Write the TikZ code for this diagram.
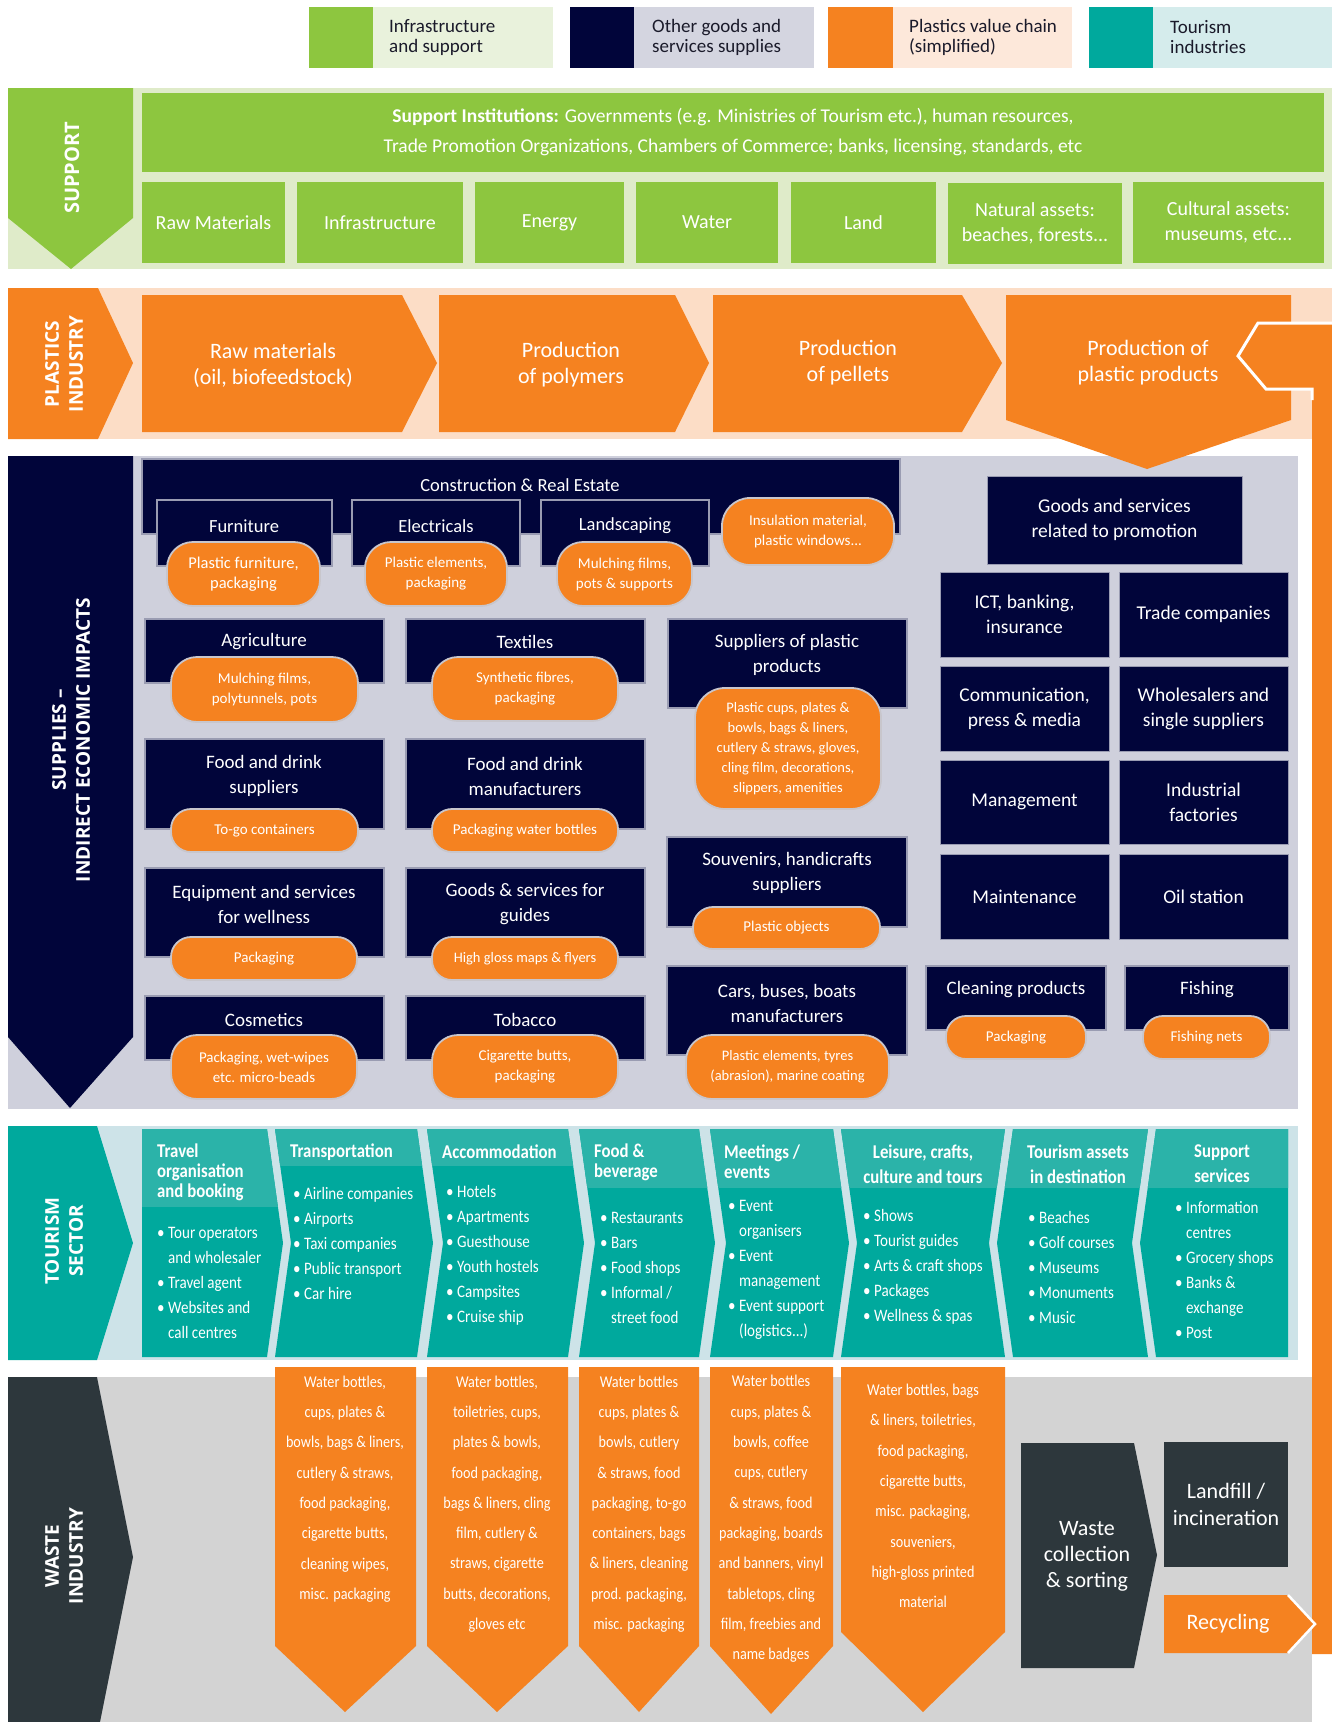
\documentclass[tikz,border=0pt]{standalone}
\usepackage{fontspec}
\setmainfont{Carlito}
\newfontfamily\hd{Open Sans}
\newfontfamily\cond{Carlito}[FakeStretch=0.86]
\newcommand\fs[2]{\fontsize{#1}{#2}\selectfont}
\newcommand\bul{\makebox[11pt][l]{\textbullet}}
\newcommand\ind{\hspace*{11pt}}
\newcommand\bx[7]{\node[#1, minimum width={(#5-#3)*1pt}, minimum height={(#6-#4)*1pt}, inner sep=0pt, outer sep=0pt] (#2) at ({(#3+#5)/2},{(#4+#6)/2}) {#7};}
\newcommand\tcol[2]{\begin{scope}\clip #1; \fill[tealc] (130,1120) rectangle (1300,1365); \fill[tealh] (130,1120) rectangle (1300,#2);\end{scope}}
\definecolor{grn}{HTML}{8DC63F}
\definecolor{grnbg}{HTML}{DFEBC9}
\definecolor{grnlt}{HTML}{E9F2DC}
\definecolor{navy}{HTML}{01053A}
\definecolor{lav}{HTML}{CFD0DC}
\definecolor{navylt}{HTML}{D4D5E0}
\definecolor{org}{HTML}{F58220}
\definecolor{peach}{HTML}{FCDDC6}
\definecolor{peachlt}{HTML}{FDE8DA}
\definecolor{tealc}{HTML}{00A99D}
\definecolor{tealh}{HTML}{2BB3A9}
\definecolor{tealbg}{HTML}{CDE3E8}
\definecolor{teallt}{HTML}{D5ECEC}
\definecolor{dkw}{HTML}{2D373C}
\definecolor{grybg}{HTML}{D3D3D3}
\definecolor{boxln}{HTML}{9A9CB2}
\definecolor{pilln}{HTML}{C8C6CC}
\definecolor{legtxt}{HTML}{1A1A2A}
\begin{document}
\begin{tikzpicture}[x=1pt,y=-1pt,
 txt/.style={text=white, align=center, inner sep=0pt},
 navyb/.style={fill=navy, draw=boxln, line width=1.2pt},
 pillst/.style={fill=org, draw=pilln, line width=1.8pt, text=white, align=center},
 grnb/.style={fill=grn, text=white, align=center, font=\fs{20}{25}},
 gridb/.style={fill=navy, draw=boxln, line width=1pt, text=white, align=center, font=\fs{19.5}{25}},
 legt/.style={anchor=west, align=left, inner sep=0pt, text=legtxt, font=\fs{19}{20}},
 vlab/.style={txt, rotate=90, font=\hd\bfseries\fs{19}{24}},
 lst/.style={anchor=west, align=left, inner sep=0pt, text=white, font=\cond\fs{17.5}{25}},
 hdr/.style={inner sep=0pt, text=white, font=\cond\bfseries\fs{19.5}{20}},
 wtxt/.style={txt, font=\cond\fs{16.5}{30.3}},
 ptxt/.style={txt, font=\fs{22}{26}},
 ]
\useasboundingbox (0,0) rectangle (1332,1722);
\fill[white] (0,0) rectangle (1332,1722);

% ---------------- legend
\fill[grnlt] (309,7) rectangle (553,68); \fill[grn] (309,7) rectangle (373,68);
\node[legt] (leg1) at (389,37.5) {Infrastructure\\and support};
\fill[navylt] (570,7) rectangle (814,68); \fill[navy] (570,7) rectangle (634,68);
\node[legt] (leg2) at (652,37.5) {Other goods and\\services supplies};
\fill[peachlt] (828,7) rectangle (1072,68); \fill[org] (828,7) rectangle (893,68);
\node[legt] (leg3) at (909,37.5) {Plastics value chain\\(simplified)};
\fill[teallt] (1089,7) rectangle (1332,68); \fill[tealc] (1089,7) rectangle (1153,68);
\node[legt] (leg4) at (1170,37.5) {Tourism\\industries};

% ---------------- support
\fill[grnbg] (8,88) rectangle (1332,269);
\fill[grn] (8,88) -- (133,88) -- (133,218) -- (71,269) -- (8,218) -- cycle;
\node[vlab, font=\hd\bfseries\fs{20}{24}] (lab-sup) at (72,168) {SUPPORT};
\bx{grnb, font=\fs{19.5}{30}}{inst}{142}{93}{1324}{172}{\textbf{Support Institutions:} Governments (e.g. Ministries of Tourism etc.), human resources,\\Trade Promotion Organizations, Chambers of Commerce; banks, licensing, standards, etc}
\bx{grnb}{s-raw}{142}{182}{285}{263}{Raw Materials}
\bx{grnb}{s-inf}{297}{182}{463}{263}{Infrastructure}
\bx{grnb}{s-ene}{475}{182}{624}{263}{Energy}
\bx{grnb}{s-wat}{636}{182}{778}{263}{Water}
\bx{grnb}{s-lan}{791}{182}{936}{263}{Land}
\bx{grnb}{s-nat}{948}{183}{1122}{264}{Natural assets:\\beaches, forests...}
\bx{grnb}{s-cul}{1133}{182}{1324}{263}{Cultural assets:\\museums, etc...}

% ---------------- plastics industry
\fill[peach] (8,288) rectangle (1332,439);
\fill[org] (8,288) -- (98,288) -- (133,363) -- (98,439) -- (8,439) -- cycle;
\node[vlab] (lab-pla) at (64,364) {PLASTICS\\INDUSTRY};
\fill[org] (142,295) -- (402,295) -- (437,363) -- (402,432) -- (142,432) -- cycle;
\node[ptxt] (p1) at (273,365) {Raw materials\\(oil, biofeedstock)};
\fill[org] (439,295) -- (675,295) -- (709,363) -- (675,432) -- (439,432) -- cycle;
\node[ptxt] (p2) at (571,365) {Production\\of polymers};
\fill[org] (713,295) -- (962,295) -- (1002,363) -- (962,432) -- (713,432) -- cycle;
\node[ptxt] (p3) at (848,363) {Production\\of pellets};

% ---------------- supplies
\fill[lav] (8,456) rectangle (1298,1109);
\fill[org] (1006,295) -- (1291,295) -- (1291,420) -- (1147,469) -- (1006,420) -- cycle;
\node[ptxt] (p4) at (1148,363) {Production of\\plastic products};
\fill[org] (1332,323) -- (1258,323) -- (1238,356) -- (1266,389) -- (1312,389) -- (1312,1654) -- (1332,1654) -- cycle;
\draw[white, line width=3pt, line join=miter] (1312,400) -- (1312,389) -- (1266,389) -- (1238,356) -- (1258,323) -- (1335,323);

\fill[navy] (8,456) -- (133,456) -- (133,1037) -- (70,1108) -- (8,1037) -- cycle;
\node[vlab] (lab-supl) at (71,740) {SUPPLIES –\\INDIRECT ECONOMIC IMPACTS};

\bx{navyb}{constr}{142}{459}{900}{534}{}
\node[txt, font=\fs{18.5}{24}] (constr-t) at (520,485) {Construction \& Real Estate};
\bx{navyb}{furn}{157}{500}{332}{566}{}
\node[txt, font=\fs{18.5}{24}] (furn-t) at (244,526) {Furniture};
\bx{navyb}{elec}{352}{500}{520}{566}{}
\node[txt, font=\fs{18.5}{24}] (elec-t) at (436,526) {Electricals};
\bx{navyb}{land}{541}{500}{709}{566}{}
\node[txt, font=\fs{18.5}{24}] (land-t) at (625,526) {Landscaping};
\bx{pillst, rounded corners=26pt, font=\fs{16.5}{20}}{furn-p}{167}{542}{320}{606}{Plastic furniture,\\packaging}
\bx{pillst, rounded corners=26pt, font=\fs{15}{20}}{elec-p}{365}{542}{507}{606}{Plastic elements,\\packaging}
\bx{pillst, rounded corners=26pt, font=\fs{15}{20}}{land-p}{557}{542}{692}{606}{Mulching films,\\pots \& supports}
\bx{pillst, rounded corners=28pt, font=\fs{15}{20}}{ins-p}{722}{498}{894}{565}{Insulation material,\\plastic windows...}

\bx{navyb}{agri}{145}{619}{384}{683}{}
\node[txt, font=\fs{19}{25}] (agri-t) at (264,642) {Agriculture};
\bx{pillst, rounded corners=26pt, font=\fs{15}{20}}{agri-p}{171}{657}{358}{722}{Mulching films,\\polytunnels, pots}
\bx{navyb}{text}{406}{619}{645}{683}{}
\node[txt, font=\fs{19}{25}] (text-t) at (525,642) {Textiles};
\bx{pillst, rounded corners=26pt, font=\fs{15}{20}}{text-p}{432}{657}{618}{721}{Synthetic fibres,\\packaging}
\bx{navyb}{supp}{668}{619}{907}{708}{}
\node[txt, font=\fs{19}{25}] (supp-t) at (787,655) {Suppliers of plastic\\products};
\bx{pillst, rounded corners=30pt, font=\fs{14.5}{20}}{supp-p}{695}{688}{881}{809}{Plastic cups, plates \&\\bowls, bags \& liners,\\cutlery \& straws, gloves,\\cling film, decorations,\\slippers, amenities}

\bx{navyb}{fds}{145}{739}{384}{829}{}
\node[txt, font=\fs{19}{25}] (fds-t) at (264,776) {Food and drink\\suppliers};
\bx{pillst, rounded corners=20pt, font=\fs{15}{20}}{fds-p}{171}{809}{358}{852}{To-go containers}
\bx{navyb}{fdm}{406}{739}{645}{829}{}
\node[txt, font=\fs{19}{25}] (fdm-t) at (525,776) {Food and drink\\manufacturers};
\bx{pillst, rounded corners=20pt, font=\fs{15}{20}}{fdm-p}{432}{809}{618}{852}{Packaging water bottles}

\bx{navyb}{well}{145}{868}{384}{957}{}
\node[txt, font=\fs{19}{25}] (well-t) at (264,904) {Equipment and services\\for wellness};
\bx{pillst, rounded corners=20pt, font=\fs{15}{20}}{well-p}{171}{937}{357}{980}{Packaging}
\bx{navyb}{guid}{406}{868}{645}{957}{}
\node[txt, font=\fs{19}{25}] (guid-t) at (525,904) {Goods \& services for\\guides};
\bx{pillst, rounded corners=20pt, font=\fs{14.5}{20}}{guid-p}{432}{937}{618}{980}{High gloss maps \& flyers}

\bx{navyb}{cosm}{145}{996}{384}{1060}{}
\node[txt, font=\fs{19}{25}] (cosm-t) at (264,1020) {Cosmetics};
\bx{pillst, rounded corners=26pt, font=\fs{15}{20}}{cosm-p}{171}{1035}{357}{1099}{Packaging, wet-wipes\\etc. micro-beads}
\bx{navyb}{toba}{406}{996}{645}{1060}{}
\node[txt, font=\fs{19}{25}] (toba-t) at (525,1020) {Tobacco};
\bx{pillst, rounded corners=26pt, font=\fs{15}{20}}{toba-p}{432}{1035}{618}{1099}{Cigarette butts,\\packaging}

\bx{navyb}{souv}{667}{837}{907}{927}{}
\node[txt, font=\fs{19}{25}] (souv-t) at (787,873) {Souvenirs, handicrafts\\suppliers};
\bx{pillst, rounded corners=20pt, font=\fs{15}{20}}{souv-p}{693}{907}{880}{949}{Plastic objects}
\bx{navyb}{cars}{667}{966}{907}{1055}{}
\node[txt, font=\fs{19}{25}] (cars-t) at (787,1003) {Cars, buses, boats\\manufacturers};
\bx{pillst, rounded corners=26pt, font=\fs{14.5}{20}}{cars-p}{686}{1035}{889}{1099}{Plastic elements, tyres\\(abrasion), marine coating}
\bx{navyb}{clea}{926}{966}{1106}{1030}{}
\node[txt, font=\fs{19}{25}] (clea-t) at (1016,990) {Cleaning products};
\bx{pillst, rounded corners=20pt, font=\fs{15}{20}}{clea-p}{946}{1016}{1086}{1059}{Packaging}
\bx{navyb}{fish}{1125}{966}{1289}{1030}{}
\node[txt, font=\fs{19}{25}] (fish-t) at (1207,990) {Fishing};
\bx{pillst, rounded corners=20pt, font=\fs{15}{20}}{fish-p}{1143}{1016}{1270}{1059}{Fishing nets}

\bx{gridb}{g-prom}{987}{476}{1242}{564}{Goods and services\\related to promotion}
\bx{gridb}{g-ict}{940}{572}{1109}{657}{ICT, banking,\\insurance}
\bx{gridb}{g-trade}{1119}{572}{1288}{657}{Trade companies}
\bx{gridb}{g-comm}{940}{666}{1109}{751}{Communication,\\press \& media}
\bx{gridb}{g-whol}{1119}{666}{1288}{751}{Wholesalers and\\single suppliers}
\bx{gridb}{g-mgmt}{940}{760}{1109}{844}{Management}
\bx{gridb}{g-ind}{1119}{760}{1288}{844}{Industrial\\factories}
\bx{gridb}{g-main}{940}{854}{1109}{939}{Maintenance}
\bx{gridb}{g-oil}{1119}{854}{1288}{939}{Oil station}

% ---------------- tourism
\fill[tealbg] (8,1126) rectangle (1298,1360);
\fill[tealc] (8,1126) -- (97,1126) -- (133,1243) -- (97,1360) -- (8,1360) -- cycle;
\node[vlab] (lab-tour) at (64,1241) {TOURISM\\SECTOR};
\tcol{(142,1129) -- (267,1129) -- (283,1243) -- (267,1357) -- (142,1357) -- cycle}{1207}
\tcol{(275,1129) -- (417,1129) -- (433,1243) -- (417,1357) -- (275,1357) -- (291,1243) -- cycle}{1166}
\tcol{(427,1129) -- (568,1129) -- (584,1243) -- (568,1357) -- (427,1357) -- (443,1243) -- cycle}{1166}
\tcol{(579,1129) -- (699,1129) -- (715,1243) -- (699,1357) -- (579,1357) -- (595,1243) -- cycle}{1188}
\tcol{(710,1129) -- (833,1129) -- (849,1243) -- (833,1357) -- (710,1357) -- (726,1243) -- cycle}{1188}
\tcol{(841,1129) -- (1005,1129) -- (989,1243) -- (1005,1357) -- (841,1357) -- (857,1243) -- cycle}{1188}
\tcol{(1013,1129) -- (1148,1129) -- (1132,1243) -- (1148,1357) -- (1013,1357) -- (997,1243) -- cycle}{1188}
\tcol{(1156,1129) -- (1288,1129) -- (1288,1357) -- (1156,1357) -- (1140,1243) -- cycle}{1188}

\node[hdr, anchor=west, align=left] (h1) at (157,1172) {Travel\\organisation\\and booking};
\node[hdr, anchor=west, align=left] (h2) at (290,1152) {Transportation};
\node[hdr, anchor=west, align=left] (h3) at (442,1152) {Accommodation};
\node[hdr, anchor=west, align=left] (h4) at (594,1162) {Food \&\\beverage};
\node[hdr, anchor=west, align=left] (h5) at (724,1162) {Meetings /\\events};
\node[hdr, align=center, font=\cond\bfseries\fs{19.5}{25}] (h6) at (923,1164) {Leisure, crafts,\\culture and tours};
\node[hdr, align=center, font=\cond\bfseries\fs{19.5}{25}] (h7) at (1078,1164) {Tourism assets\\in destination};
\node[hdr, align=center, font=\cond\bfseries\fs{19.5}{25}] (h8) at (1222,1164) {Support\\services};

\node[lst] (l1) at (157,1283) {\bul Tour operators\\\ind and wholesaler\\\bul Travel agent\\\bul Websites and\\\ind call centres};
\node[lst] (l2) at (293,1243) {\bul Airline companies\\\bul Airports\\\bul Taxi companies\\\bul Public transport\\\bul Car hire};
\node[lst] (l3) at (446,1255.5) {\bul Hotels\\\bul Apartments\\\bul Guesthouse\\\bul Youth hostels\\\bul Campsites\\\bul Cruise ship};
\node[lst] (l4) at (600,1268) {\bul Restaurants\\\bul Bars\\\bul Food shops\\\bul Informal /\\\ind street food};
\node[lst] (l5) at (728,1269.5) {\bul Event\\\ind organisers\\\bul Event\\\ind management\\\bul Event support\\\ind (logistics...)};
\node[lst] (l6) at (863,1267) {\bul Shows\\\bul Tourist guides\\\bul Arts \& craft shops\\\bul Packages\\\bul Wellness \& spas};
\node[lst] (l7) at (1028,1267) {\bul Beaches\\\bul Golf courses\\\bul Museums\\\bul Monuments\\\bul Music};
\node[lst] (l8) at (1175,1269.5) {\bul Information\\\ind centres\\\bul Grocery shops\\\bul Banks \&\\\ind exchange\\\bul Post};

% ---------------- waste
\fill[grybg] (8,1377) rectangle (1312,1722);
\fill[dkw] (8,1377) -- (97,1377) -- (133,1557) -- (100,1722) -- (8,1722) -- cycle;
\node[vlab] (lab-waste) at (64,1556) {WASTE\\INDUSTRY};

\fill[org] (275,1367) -- (416,1367) -- (416,1646) -- (345,1712) -- (275,1646) -- cycle;
\node[wtxt] (a1) at (345,1489) {Water bottles,\\cups, plates \&\\bowls, bags \& liners,\\cutlery \& straws,\\food packaging,\\cigarette butts,\\cleaning wipes,\\misc. packaging};
\fill[org] (427,1367) -- (568,1367) -- (568,1646) -- (497,1712) -- (427,1646) -- cycle;
\node[wtxt] (a2) at (497,1504) {Water bottles,\\toiletries, cups,\\plates \& bowls,\\food packaging,\\bags \& liners, cling\\film, cutlery \&\\straws, cigarette\\butts, decorations,\\gloves etc};
\fill[org] (579,1367) -- (699,1367) -- (699,1646) -- (639,1712) -- (579,1646) -- cycle;
\node[wtxt] (a3) at (639,1504) {Water bottles\\cups, plates \&\\bowls, cutlery\\\& straws, food\\packaging, to-go\\containers, bags\\\& liners, cleaning\\prod. packaging,\\misc. packaging};
\fill[org] (710,1367) -- (833,1367) -- (833,1646) -- (771,1714) -- (710,1646) -- cycle;
\node[wtxt] (a4) at (771,1519) {Water bottles\\cups, plates \&\\bowls, coffee\\cups, cutlery\\\& straws, food\\packaging, boards\\and banners, vinyl\\tabletops, cling\\film, freebies and\\name badges};
\fill[org] (841,1367) -- (1005,1367) -- (1005,1632) -- (923,1712) -- (841,1632) -- cycle;
\node[wtxt] (a5) at (923,1496) {Water bottles, bags\\\& liners, toiletries,\\food packaging,\\cigarette butts,\\misc. packaging,\\souveniers,\\high-gloss printed\\material};

\fill[dkw] (1021,1443) -- (1134,1443) -- (1157,1555) -- (1134,1668) -- (1021,1668) -- cycle;
\node[ptxt] (wc) at (1087,1556) {Waste\\collection\\\& sorting};
\bx{fill=dkw, text=white, align=center, font=\fs{22}{27}}{landf}{1164}{1442}{1288}{1567}{Landfill /\\incineration}
\fill[org] (1164,1595) -- (1288,1595) -- (1315,1624) -- (1288,1653) -- (1164,1653) -- cycle;
\draw[white, line width=2.5pt] (1288,1595) -- (1315,1624) -- (1288,1653);
\node[ptxt] (recy) at (1228,1624) {Recycling};
\end{tikzpicture}
\end{document}
